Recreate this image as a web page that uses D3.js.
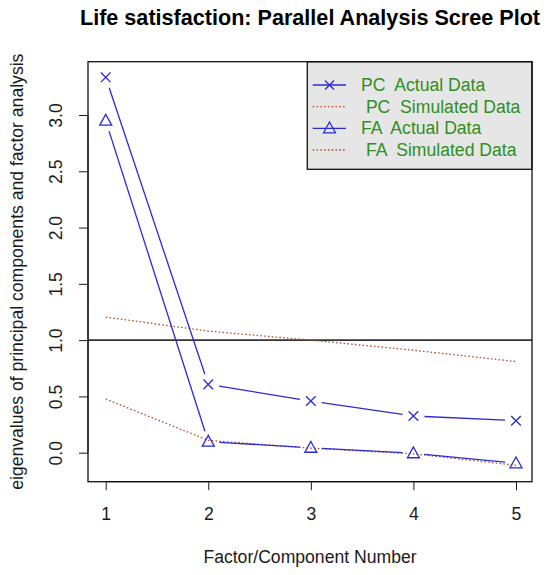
<!DOCTYPE html>
<html><head><meta charset="utf-8">
<script src="https://cdn.jsdelivr.net/npm/d3@7/dist/d3.min.js"></script>
<style>body{margin:0;background:#fff}svg{display:block}</style>
</head><body>
<svg id="c" width="550" height="575"></svg>
<script>
const factors = [1, 2, 3, 4, 5];
const pcActual = [3.335, 0.607, 0.459, 0.326, 0.284];
const pcSimulated = [1.205, 1.08, 1.0, 0.91, 0.81];
const faActual = [2.95, 0.098, 0.044, -0.005, -0.094];
const faSimulated = [0.477, 0.11, 0.04, -0.01, -0.112];
const yTicks = [0.0, 0.5, 1.0, 1.5, 2.0, 2.5, 3.0];
const legendLabels = ["PC  Actual Data", " PC  Simulated Data", "FA  Actual Data", " FA  Simulated Data"];

const svg = d3.select("#c");
const font = "'Liberation Sans', Arial, sans-serif";
const FS = 17.6;
const box = {l: 88, r: 532, t: 61.7, b: 481.7};
const x = d3.scaleLinear().domain([1, 5]).range([105.7, 516]);
const y = d3.scaleLinear().domain([0, 3]).range([452.7, 115]);
const BLUE = "#2a2ad8", RED = "#b4502a", GREEN = "#2f8f22", INK = "#1a1a1a";

// title
svg.append("text").attr("x", 310).attr("y", 25).attr("text-anchor", "middle")
  .attr("font-family", font).attr("font-weight", "bold").attr("font-size", 21.6).attr("fill", "#000")
  .text("Life satisfaction: Parallel Analysis Scree Plot");

// x axis
const xAxis = d3.axisBottom(x).tickValues(factors).tickSize(8.5).tickFormat(d3.format("d"));
const gx = svg.append("g").attr("transform", `translate(0,${box.b})`).call(xAxis);
gx.select(".domain").attr("d", `M${x(1)},0H${x(5)}`).attr("stroke", INK);
gx.selectAll(".tick line").attr("stroke", INK);
gx.selectAll(".tick text").attr("font-family", font).attr("font-size", FS).attr("fill", INK)
  .attr("y", 38.5).attr("dy", null);

// y axis
const yAxis = d3.axisLeft(y).tickValues(yTicks).tickSize(9).tickFormat(d3.format(".1f"));
const gy = svg.append("g").attr("transform", `translate(${box.l},0)`).call(yAxis);
gy.select(".domain").attr("d", `M0,${y(0)}V${y(3)}`).attr("stroke", INK);
gy.selectAll(".tick line").attr("stroke", INK);
gy.selectAll(".tick text").attr("font-family", font).attr("font-size", FS).attr("fill", INK)
  .attr("text-anchor", "middle").attr("x", null).attr("dy", null)
  .attr("transform", "translate(-26.5,0) rotate(-90)");

svg.append("text").attr("x", 310).attr("y", 563).attr("text-anchor", "middle")
  .attr("font-family", font).attr("font-size", FS).attr("fill", INK)
  .text("Factor/Component Number");
svg.append("text").attr("transform", `translate(22.5,${(box.t + box.b) / 2}) rotate(-90)`)
  .attr("text-anchor", "middle").attr("font-family", font).attr("font-size", FS).attr("fill", INK)
  .text("eigenvalues of principal components and factor analysis");

// reference line
svg.append("line").attr("x1", box.l).attr("x2", box.r).attr("y1", y(1)).attr("y2", y(1))
  .attr("stroke", "#333").attr("stroke-width", 1.6);

// dotted simulated lines
const line = d3.line().x((d, i) => x(factors[i])).y(d => y(d));
[pcSimulated, faSimulated].forEach(s => {
  svg.append("path").attr("d", line(s)).attr("fill", "none").attr("stroke", RED)
    .attr("stroke-width", 1.3).attr("stroke-dasharray", "1.6,2.2");
});

// type "b" lines with gaps
function gapLines(vals, gap) {
  const g = svg.append("g");
  for (let i = 0; i < vals.length - 1; i++) {
    const x1 = x(factors[i]), y1 = y(vals[i]), x2 = x(factors[i + 1]), y2 = y(vals[i + 1]);
    const len = Math.hypot(x2 - x1, y2 - y1);
    if (len <= 2 * gap) continue;
    const ux = (x2 - x1) / len, uy = (y2 - y1) / len;
    g.append("line").attr("x1", x1 + ux * gap).attr("y1", y1 + uy * gap)
      .attr("x2", x2 - ux * gap).attr("y2", y2 - uy * gap)
      .attr("stroke", BLUE).attr("stroke-width", 1.3);
  }
}
gapLines(pcActual, 11);
gapLines(faActual, 11);

function cross(g, cx, cy, s) {
  g.append("path").attr("d", `M${cx - s},${cy - s}L${cx + s},${cy + s}M${cx - s},${cy + s}L${cx + s},${cy - s}`)
    .attr("stroke", BLUE).attr("stroke-width", 1.3).attr("fill", "none");
}
function tri(g, cx, cy, s) {
  g.append("path").attr("d", `M${cx},${cy - s * 1.05}L${cx + s},${cy + s * 0.75}L${cx - s},${cy + s * 0.75}Z`)
    .attr("stroke", BLUE).attr("stroke-width", 1.3).attr("fill", "none");
}
const pts = svg.append("g");
pcActual.forEach((v, i) => cross(pts, x(factors[i]), y(v), 4.8));
faActual.forEach((v, i) => tri(pts, x(factors[i]), y(v), 6));

// legend
const lg = svg.append("g");
lg.append("rect").attr("x", 307.3).attr("y", box.t).attr("width", box.r - 307.3).attr("height", 169.3 - box.t)
  .attr("fill", "#e6e6e6").attr("stroke", "#111").attr("stroke-width", 1.3);
const rowsY = [85, 106.7, 128.3, 150];
legendLabels.forEach((t, i) => {
  const ry = rowsY[i];
  if (i % 2 === 0) {
    lg.append("line").attr("x1", 312.7).attr("x2", 346).attr("y1", ry).attr("y2", ry)
      .attr("stroke", BLUE).attr("stroke-width", 1.3);
    if (i === 0) cross(lg, 329.5, ry, 4.5); else tri(lg, 329.5, ry, 6);
  } else {
    lg.append("line").attr("x1", 312.7).attr("x2", 346).attr("y1", ry).attr("y2", ry)
      .attr("stroke", RED).attr("stroke-width", 1.3).attr("stroke-dasharray", "1.6,2.2");
  }
  lg.append("text").attr("x", 361).attr("y", ry).attr("dy", "0.35em")
    .attr("font-family", font).attr("font-size", FS).attr("fill", GREEN)
    .attr("xml:space", "preserve").style("white-space", "pre").text(t);
});

// box
svg.append("rect").attr("x", box.l).attr("y", box.t).attr("width", box.r - box.l).attr("height", box.b - box.t)
  .attr("fill", "none").attr("stroke", "#111").attr("stroke-width", 1.3);
</script>
</body></html>
